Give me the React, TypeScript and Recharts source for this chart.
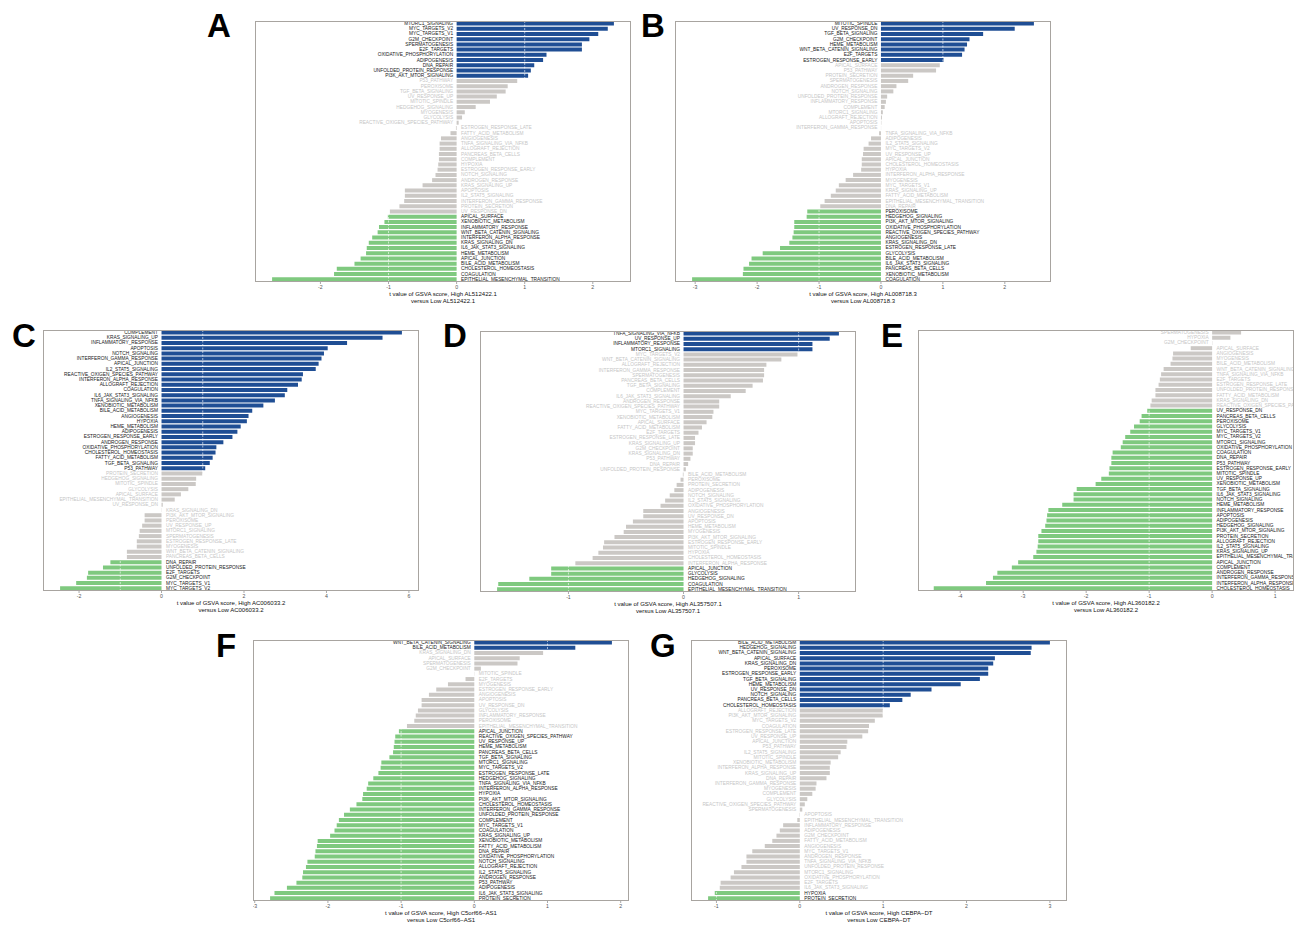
import React from 'react';
import { BarChart, Bar, XAxis, YAxis, Cell, LabelList, ReferenceLine } from 'recharts';

const namesA = ['MTORC1_SIGNALING','MYC_TARGETS_V2','MYC_TARGETS_V1','G2M_CHECKPOINT','SPERMATOGENESIS','E2F_TARGETS','OXIDATIVE_PHOSPHORYLATION','ADIPOGENESIS','DNA_REPAIR','UNFOLDED_PROTEIN_RESPONSE','PI3K_AKT_MTOR_SIGNALING','P53_PATHWAY','PEROXISOME','TGF_BETA_SIGNALING','UV_RESPONSE_UP','MITOTIC_SPINDLE','HEDGEHOG_SIGNALING','MYOGENESIS','GLYCOLYSIS','REACTIVE_OXIGEN_SPECIES_PATHWAY','ESTROGEN_RESPONSE_LATE','FATTY_ACID_METABOLISM','ANGIOGENESIS','TNFA_SIGNALING_VIA_NFKB','ALLOGRAFT_REJECTION','PANCREAS_BETA_CELLS','COMPLEMENT','HYPOXIA','ESTROGEN_RESPONSE_EARLY','NOTCH_SIGNALING','ANDROGEN_RESPONSE','KRAS_SIGNALING_UP','APOPTOSIS','IL2_STAT5_SIGNALING','INTERFERON_GAMMA_RESPONSE','PROTEIN_SECRETION','UV_RESPONSE_DN','APICAL_SURFACE','XENOBIOTIC_METABOLISM','INFLAMMATORY_RESPONSE','WNT_BETA_CATENIN_SIGNALING','INTERFERON_ALPHA_RESPONSE','KRAS_SIGNALING_DN','IL6_JAK_STAT3_SIGNALING','HEME_METABOLISM','APICAL_JUNCTION','BILE_ACID_METABOLISM','CHOLESTEROL_HOMEOSTASIS','COAGULATION','EPITHELIAL_MESENCHYMAL_TRANSITION'];
const tA = [2.31,2.22,2.08,1.95,1.84,1.84,1.32,1.27,1.14,1.09,1.05,0.89,0.75,0.72,0.59,0.49,0.28,0.12,0.08,0.03,-0.01,-0.09,-0.23,-0.25,-0.25,-0.26,-0.26,-0.27,-0.28,-0.31,-0.36,-0.5,-0.76,-0.76,-0.77,-0.84,-0.98,-1.01,-1.06,-1.14,-1.16,-1.24,-1.29,-1.32,-1.33,-1.41,-1.5,-1.76,-1.8,-2.71];

const namesB = ['MITOTIC_SPINDLE','UV_RESPONSE_DN','TGF_BETA_SIGNALING','G2M_CHECKPOINT','HEME_METABOLISM','WNT_BETA_CATENIN_SIGNALING','E2F_TARGETS','ESTROGEN_RESPONSE_EARLY','APICAL_SURFACE','P53_PATHWAY','PROTEIN_SECRETION','SPERMATOGENESIS','ANDROGEN_RESPONSE','NOTCH_SIGNALING','UNFOLDED_PROTEIN_RESPONSE','INFLAMMATORY_RESPONSE','COMPLEMENT','MTORC1_SIGNALING','ALLOGRAFT_REJECTION','APOPTOSIS','INTERFERON_GAMMA_RESPONSE','TNFA_SIGNALING_VIA_NFKB','ADIPOGENESIS','IL2_STAT5_SIGNALING','MYC_TARGETS_V2','UV_RESPONSE_UP','APICAL_JUNCTION','CHOLESTEROL_HOMEOSTASIS','HYPOXIA','INTERFERON_ALPHA_RESPONSE','MYOGENESIS','MYC_TARGETS_V1','KRAS_SIGNALING_UP','FATTY_ACID_METABOLISM','EPITHELIAL_MESENCHYMAL_TRANSITION','DNA_REPAIR','PEROXISOME','HEDGEHOG_SIGNALING','PI3K_AKT_MTOR_SIGNALING','OXIDATIVE_PHOSPHORYLATION','REACTIVE_OXIGEN_SPECIES_PATHWAY','ANGIOGENESIS','KRAS_SIGNALING_DN','ESTROGEN_RESPONSE_LATE','GLYCOLYSIS','BILE_ACID_METABOLISM','IL6_JAK_STAT3_SIGNALING','PANCREAS_BETA_CELLS','XENOBIOTIC_METABOLISM','COAGULATION'];
const tB = [2.47,2.16,1.65,1.43,1.39,1.35,1.31,1.01,0.95,0.89,0.52,0.44,0.25,0.2,0.1,0.08,0.06,0.03,0.015,0.006,0.002,-0.03,-0.16,-0.2,-0.28,-0.29,-0.31,-0.31,-0.32,-0.45,-0.57,-0.68,-0.73,-0.81,-0.91,-0.98,-1.19,-1.2,-1.4,-1.4,-1.41,-1.43,-1.48,-1.63,-1.91,-2.09,-2.13,-2.22,-2.23,-3.05];

const namesC = ['COMPLEMENT','KRAS_SIGNALING_UP','INFLAMMATORY_RESPONSE','APOPTOSIS','NOTCH_SIGNALING','INTERFERON_GAMMA_RESPONSE','APICAL_JUNCTION','IL2_STAT5_SIGNALING','REACTIVE_OXIGEN_SPECIES_PATHWAY','INTERFERON_ALPHA_RESPONSE','ALLOGRAFT_REJECTION','COAGULATION','IL6_JAK_STAT3_SIGNALING','TNFA_SIGNALING_VIA_NFKB','XENOBIOTIC_METABOLISM','BILE_ACID_METABOLISM','ANGIOGENESIS','HYPOXIA','HEME_METABOLISM','ADIPOGENESIS','ESTROGEN_RESPONSE_EARLY','ANDROGEN_RESPONSE','OXIDATIVE_PHOSPHORYLATION','CHOLESTEROL_HOMEOSTASIS','FATTY_ACID_METABOLISM','TGF_BETA_SIGNALING','P53_PATHWAY','PROTEIN_SECRETION','HEDGEHOG_SIGNALING','MITOTIC_SPINDLE','GLYCOLYSIS','APICAL_SURFACE','EPITHELIAL_MESENCHYMAL_TRANSITION','UV_RESPONSE_DN','KRAS_SIGNALING_DN','PI3K_AKT_MTOR_SIGNALING','PEROXISOME','UV_RESPONSE_UP','MTORC1_SIGNALING','SPERMATOGENESIS','ESTROGEN_RESPONSE_LATE','MYOGENESIS','WNT_BETA_CATENIN_SIGNALING','PANCREAS_BETA_CELLS','DNA_REPAIR','UNFOLDED_PROTEIN_RESPONSE','E2F_TARGETS','G2M_CHECKPOINT','MYC_TARGETS_V1','MYC_TARGETS_V2'];
const tC = [5.83,5.36,4.5,4.03,3.94,3.88,3.81,3.74,3.43,3.4,3.31,3.05,2.99,2.75,2.47,2.2,2.11,2.07,1.92,1.84,1.72,1.5,1.33,1.31,1.24,1.17,1.06,0.99,0.84,0.83,0.65,0.47,0.32,0.03,-0.005,-0.41,-0.41,-0.47,-0.53,-0.55,-0.6,-0.6,-0.84,-0.84,-1.24,-1.42,-1.78,-1.81,-2.07,-2.46];

const namesD = ['TNFA_SIGNALING_VIA_NFKB','UV_RESPONSE_UP','INFLAMMATORY_RESPONSE','MTORC1_SIGNALING','MYC_TARGETS_V2','WNT_BETA_CATENIN_SIGNALING','ALLOGRAFT_REJECTION','INTERFERON_GAMMA_RESPONSE','SPERMATOGENESIS','PANCREAS_BETA_CELLS','TGF_BETA_SIGNALING','COMPLEMENT','IL6_JAK_STAT3_SIGNALING','ANDROGEN_RESPONSE','REACTIVE_OXIGEN_SPECIES_PATHWAY','MYC_TARGETS_V1','XENOBIOTIC_METABOLISM','APICAL_SURFACE','FATTY_ACID_METABOLISM','E2F_TARGETS','ESTROGEN_RESPONSE_LATE','KRAS_SIGNALING_UP','G2M_CHECKPOINT','KRAS_SIGNALING_DN','P53_PATHWAY','DNA_REPAIR','UNFOLDED_PROTEIN_RESPONSE','BILE_ACID_METABOLISM','PEROXISOME','PROTEIN_SECRETION','ADIPOGENESIS','NOTCH_SIGNALING','IL2_STAT5_SIGNALING','OXIDATIVE_PHOSPHORYLATION','ANGIOGENESIS','UV_RESPONSE_DN','APOPTOSIS','HEME_METABOLISM','MYOGENESIS','PI3K_AKT_MTOR_SIGNALING','ESTROGEN_RESPONSE_EARLY','MITOTIC_SPINDLE','HYPOXIA','CHOLESTEROL_HOMEOSTASIS','INTERFERON_ALPHA_RESPONSE','APICAL_JUNCTION','GLYCOLYSIS','HEDGEHOG_SIGNALING','COAGULATION','EPITHELIAL_MESENCHYMAL_TRANSITION'];
const tD = [1.35,1.27,1.12,1.12,0.99,0.85,0.72,0.7,0.7,0.69,0.6,0.54,0.41,0.31,0.31,0.26,0.25,0.2,0.16,0.13,0.1,0.1,0.08,0.08,0.06,0.04,0.02,-0.006,-0.026,-0.06,-0.08,-0.12,-0.16,-0.2,-0.35,-0.35,-0.44,-0.5,-0.52,-0.6,-0.69,-0.7,-0.74,-0.79,-0.94,-1.15,-1.15,-1.34,-1.61,-1.62];

const namesE = ['SPERMATOGENESIS','HYPOXIA','G2M_CHECKPOINT','APICAL_SURFACE','ANGIOGENESIS','MYOGENESIS','BILE_ACID_METABOLISM','WNT_BETA_CATENIN_SIGNALING','TNFA_SIGNALING_VIA_NFKB','E2F_TARGETS','ESTROGEN_RESPONSE_LATE','UNFOLDED_PROTEIN_RESPONSE','FATTY_ACID_METABOLISM','KRAS_SIGNALING_DN','REACTIVE_OXIGEN_SPECIES_PATHWAY','UV_RESPONSE_DN','PANCREAS_BETA_CELLS','PEROXISOME','GLYCOLYSIS','MYC_TARGETS_V1','MYC_TARGETS_V2','MTORC1_SIGNALING','OXIDATIVE_PHOSPHORYLATION','COAGULATION','DNA_REPAIR','P53_PATHWAY','ESTROGEN_RESPONSE_EARLY','MITOTIC_SPINDLE','UV_RESPONSE_UP','XENOBIOTIC_METABOLISM','TGF_BETA_SIGNALING','IL6_JAK_STAT3_SIGNALING','NOTCH_SIGNALING','HEME_METABOLISM','INFLAMMATORY_RESPONSE','APOPTOSIS','ADIPOGENESIS','HEDGEHOG_SIGNALING','PI3K_AKT_MTOR_SIGNALING','PROTEIN_SECRETION','ALLOGRAFT_REJECTION','IL2_STAT5_SIGNALING','KRAS_SIGNALING_UP','EPITHELIAL_MESENCHYMAL_TRANSITION','APICAL_JUNCTION','COMPLEMENT','ANDROGEN_RESPONSE','INTERFERON_GAMMA_RESPONSE','INTERFERON_ALPHA_RESPONSE','CHOLESTEROL_HOMEOSTASIS'];
const tE = [0.46,0.29,0.004,-0.34,-0.62,-0.63,-0.66,-0.77,-0.81,-0.83,-0.85,-0.9,-0.9,-0.96,-0.98,-1.03,-1.12,-1.15,-1.24,-1.3,-1.38,-1.42,-1.45,-1.58,-1.6,-1.6,-1.63,-1.64,-1.76,-1.85,-2.15,-2.2,-2.2,-2.38,-2.6,-2.62,-2.63,-2.65,-2.71,-2.76,-2.76,-2.77,-2.79,-2.84,-3.08,-3.18,-3.41,-3.48,-3.59,-4.42];

const namesF = ['WNT_BETA_CATENIN_SIGNALING','BILE_ACID_METABOLISM','KRAS_SIGNALING_DN','APICAL_SURFACE','SPERMATOGENESIS','G2M_CHECKPOINT','MITOTIC_SPINDLE','E2F_TARGETS','MYOGENESIS','ESTROGEN_RESPONSE_EARLY','ANGIOGENESIS','APOPTOSIS','UV_RESPONSE_DN','GLYCOLYSIS','INFLAMMATORY_RESPONSE','PEROXISOME','EPITHELIAL_MESENCHYMAL_TRANSITION','APICAL_JUNCTION','REACTIVE_OXIGEN_SPECIES_PATHWAY','UV_RESPONSE_UP','HEME_METABOLISM','PANCREAS_BETA_CELLS','TGF_BETA_SIGNALING','MTORC1_SIGNALING','MYC_TARGETS_V2','ESTROGEN_RESPONSE_LATE','HEDGEHOG_SIGNALING','TNFA_SIGNALING_VIA_NFKB','INTERFERON_ALPHA_RESPONSE','HYPOXIA','PI3K_AKT_MTOR_SIGNALING','CHOLESTEROL_HOMEOSTASIS','INTERFERON_GAMMA_RESPONSE','UNFOLDED_PROTEIN_RESPONSE','COMPLEMENT','MYC_TARGETS_V1','COAGULATION','KRAS_SIGNALING_UP','XENOBIOTIC_METABOLISM','FATTY_ACID_METABOLISM','DNA_REPAIR','OXIDATIVE_PHOSPHORYLATION','NOTCH_SIGNALING','ALLOGRAFT_REJECTION','IL2_STAT5_SIGNALING','ANDROGEN_RESPONSE','P53_PATHWAY','ADIPOGENESIS','IL6_JAK_STAT3_SIGNALING','PROTEIN_SECRETION'];
const tF = [1.88,1.38,0.94,0.62,0.59,0.09,-0.003,-0.12,-0.36,-0.52,-0.62,-0.72,-0.72,-0.77,-0.8,-0.82,-0.92,-1.03,-1.08,-1.09,-1.1,-1.11,-1.16,-1.27,-1.28,-1.31,-1.38,-1.45,-1.47,-1.52,-1.53,-1.61,-1.7,-1.78,-1.85,-1.88,-1.91,-1.97,-2.14,-2.15,-2.17,-2.18,-2.28,-2.3,-2.34,-2.35,-2.43,-2.56,-2.73,-2.79];

const namesG = ['BILE_ACID_METABOLISM','HEDGEHOG_SIGNALING','WNT_BETA_CATENIN_SIGNALING','APICAL_SURFACE','KRAS_SIGNALING_DN','PEROXISOME','ESTROGEN_RESPONSE_EARLY','TGF_BETA_SIGNALING','HEME_METABOLISM','UV_RESPONSE_DN','NOTCH_SIGNALING','PANCREAS_BETA_CELLS','CHOLESTEROL_HOMEOSTASIS','ALLOGRAFT_REJECTION','PI3K_AKT_MTOR_SIGNALING','MYC_TARGETS_V2','COAGULATION','ESTROGEN_RESPONSE_LATE','UV_RESPONSE_UP','APICAL_JUNCTION','P53_PATHWAY','IL2_STAT5_SIGNALING','MITOTIC_SPINDLE','XENOBIOTIC_METABOLISM','INTERFERON_ALPHA_RESPONSE','KRAS_SIGNALING_UP','DNA_REPAIR','INTERFERON_GAMMA_RESPONSE','MYOGENESIS','COMPLEMENT','GLYCOLYSIS','REACTIVE_OXIGEN_SPECIES_PATHWAY','SPERMATOGENESIS','APOPTOSIS','EPITHELIAL_MESENCHYMAL_TRANSITION','INFLAMMATORY_RESPONSE','ADIPOGENESIS','G2M_CHECKPOINT','FATTY_ACID_METABOLISM','ANGIOGENESIS','MYC_TARGETS_V1','ANDROGEN_RESPONSE','TNFA_SIGNALING_VIA_NFKB','UNFOLDED_PROTEIN_RESPONSE','MTORC1_SIGNALING','OXIDATIVE_PHOSPHORYLATION','E2F_TARGETS','IL6_JAK_STAT3_SIGNALING','HYPOXIA','PROTEIN_SECRETION'];
const tG = [3.0,2.78,2.77,2.34,2.32,2.26,2.26,2.16,1.93,1.58,1.33,1.23,1.08,0.996,0.995,0.9,0.83,0.82,0.75,0.57,0.56,0.49,0.46,0.37,0.36,0.36,0.32,0.2,0.19,0.15,0.09,0.06,0.03,-0.004,-0.03,-0.2,-0.24,-0.28,-0.33,-0.42,-0.57,-0.64,-0.64,-0.7,-0.79,-0.83,-0.95,-0.96,-1.02,-1.1];

const ticksA = [-2, -1, 0, 1, 2];
const ticksB = [-3, -2, -1, 0, 1, 2];
const ticksC = [-2, 0, 2, 4, 6];
const ticksD = [-1, 0, 1];
const ticksE = [-4, -3, -2, -1, 0, 1];
const ticksF = [-3, -2, -1, 0, 1, 2];
const ticksG = [-1, 0, 1, 2, 3];

const BLUE = '#1f4e94';
const GREEN = '#7fc97f';
const GREY = '#cbc8c5';
const GREY_TEXT = '#c6c6c6';
const FONT = '"Liberation Sans", Arial, Helvetica, sans-serif';
const W = 376;
const H = 261;

const colorOf = (v: number) => (v > 1 ? BLUE : v < -1 ? GREEN : GREY);

function expand(vals: number[]): [number, number] {
  const mn = Math.min(...vals);
  const mx = Math.max(...vals);
  const r = mx - mn;
  return [mn - 0.05 * r, mx + 0.05 * r];
}

type PanelProps = {
  names: string[];
  vals: number[];
  left: number;
  top: number;
  ticks: number[];
  gene: string;
  domain?: [number, number];
};

function Panel({ names, vals, left, top, ticks, gene, domain }: PanelProps) {
  const data = names.map((n, i) => ({ name: n, t: vals[i] }));
  const dom = domain || expand(vals);
  const renderLabel = (props: any) => {
    const { x, y, width, height, index } = props;
    const d = data[index];
    if (!d) return null;
    const x0 = Number(x);
    const x1 = Number(x) + Number(width);
    const pos = d.t >= 0;
    const zero = pos ? Math.min(x0, x1) : Math.max(x0, x1);
    const sig = Math.abs(d.t) > 1;
    return (
      <text
        x={pos ? zero - 3.5 : zero + 4.5}
        y={Number(y) + Number(height) / 2}
        textAnchor={pos ? 'end' : 'start'}
        dominantBaseline="central"
        fontSize={4.8}
        fontFamily={FONT}
        fill={sig ? '#1a1a1a' : GREY_TEXT}
      >
        {d.name}
      </text>
    );
  };
  return (
    <div style={{ position: 'absolute', left, top, width: W, height: H + 30, overflow: 'hidden' }}>
      <BarChart
        width={W}
        height={H + 14}
        data={data}
        layout="vertical"
        margin={{ top: 0, right: 0, left: 0, bottom: 0 }}
        barCategoryGap="10%"
      >
        <XAxis
          type="number"
          dataKey="t"
          domain={dom}
          ticks={ticks}
          interval={0}
          allowDataOverflow
          height={14}
          axisLine={false}
          tickLine={{ stroke: '#6e6e6e', strokeWidth: 0.6 }}
          tickSize={2}
          tickMargin={1}
          tick={{ fontSize: 5.2, fill: '#555555', fontFamily: FONT }}
        />
        <YAxis type="category" dataKey="name" hide />
        <Bar dataKey="t" isAnimationActive={false}>
          {data.map((d, i) => (
            <Cell key={i} fill={colorOf(d.t)} />
          ))}
          <LabelList dataKey="name" content={renderLabel} />
        </Bar>
        <ReferenceLine x={1} stroke="#ffffff" strokeWidth={0.6} strokeDasharray="2 1.5" />
        <ReferenceLine x={-1} stroke="#ffffff" strokeWidth={0.6} strokeDasharray="2 1.5" />
      </BarChart>
      <div
        style={{
          position: 'absolute',
          left: 0,
          top: 0,
          width: W,
          height: H,
          boxSizing: 'border-box',
          border: '1px solid #a8a4a0',
          pointerEvents: 'none',
        }}
      />
      <svg style={{ position: 'absolute', left: 0, top: H, width: W, height: 30 }} width={W} height={30}>
        <text x={W / 2} y={14} textAnchor="middle" fontSize={6} fontFamily={FONT} fill="#111">
          {`t value of GSVA score, High ${gene}`}
        </text>
        <text x={W / 2} y={21} textAnchor="middle" fontSize={6} fontFamily={FONT} fill="#111">
          {`versus Low ${gene}`}
        </text>
      </svg>
    </div>
  );
}

const letters = [
  { l: 'A', x: 207, y: 37 },
  { l: 'B', x: 641, y: 37 },
  { l: 'C', x: 12, y: 347 },
  { l: 'D', x: 443, y: 347 },
  { l: 'E', x: 881, y: 347 },
  { l: 'F', x: 216, y: 657 },
  { l: 'G', x: 650, y: 657 },
];

export default function App() {
  return (
    <div style={{ position: 'absolute', left: 0, top: 0, width: 1299, height: 931, background: '#fff', overflow: 'hidden' }}>
      <Panel names={namesA} vals={tA} left={255} top={21} ticks={ticksA} gene="AL512422.1" />
      <Panel names={namesB} vals={tB} left={675} top={21} ticks={ticksB} gene="AL008718.3" />
      <Panel names={namesC} vals={tC} left={43} top={330} ticks={ticksC} gene="AC006033.2" />
      <Panel names={namesD} vals={tD} left={480} top={331} ticks={ticksD} gene="AL357507.1" />
      <Panel names={namesE} vals={tE} left={918} top={330} ticks={ticksE} gene="AL360182.2" domain={[-4.67, 1.3]} />
      <Panel names={namesF} vals={tF} left={253} top={640} ticks={ticksF} gene="C5orf66−AS1" />
      <Panel names={namesG} vals={tG} left={691} top={640} ticks={ticksG} gene="CEBPA−DT" />
      <svg style={{ position: 'absolute', left: 0, top: 0, pointerEvents: 'none' }} width={1299} height={931}>
        {letters.map((d) => (
          <text key={d.l} x={d.x} y={d.y} fontSize={33} fontWeight="bold" fontFamily={FONT} fill="#000">
            {d.l}
          </text>
        ))}
      </svg>
    </div>
  );
}
